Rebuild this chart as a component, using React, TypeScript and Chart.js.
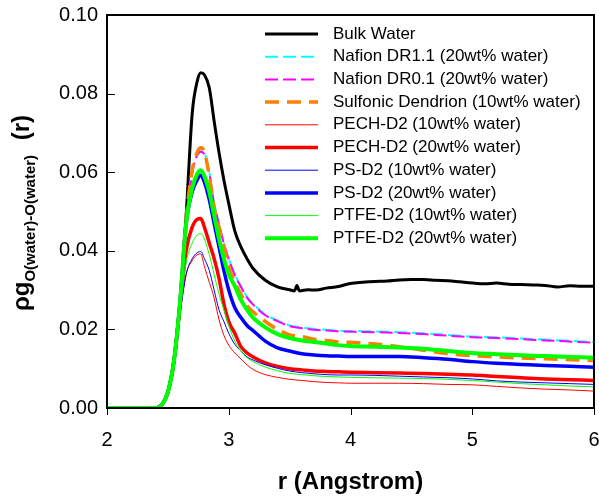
import React, { useEffect, useRef } from "react";
import { Chart, registerables } from "chart.js";

Chart.register(...registerables);

const r = [2.0, 2.4, 2.45, 2.5, 2.55, 2.6, 2.65, 2.7, 2.74, 2.77, 2.8, 2.84, 2.88, 2.92, 2.96, 3.0, 3.05, 3.1, 3.15, 3.2, 3.3, 3.4, 3.5, 3.6, 3.7, 3.8, 3.9, 4.0, 4.2, 4.4, 4.6, 4.8, 5.0, 5.2, 5.4, 5.6, 5.8, 6.0];
const rBulk = [2.0, 2.4, 2.45, 2.5, 2.55, 2.6, 2.65, 2.7, 2.74, 2.77, 2.8, 2.84, 2.88, 2.92, 2.96, 3.0, 3.05, 3.1, 3.15, 3.2, 3.3, 3.4, 3.45, 3.5, 3.54, 3.56, 3.58, 3.65, 3.72, 3.8, 3.9, 4.0, 4.1, 4.2, 4.3, 4.4, 4.5, 4.6, 4.7, 4.8, 4.9, 5.0, 5.1, 5.2, 5.3, 5.4, 5.5, 5.6, 5.7, 5.8, 5.9, 6.0];

const bulkWater = [0, 0, 0.0008, 0.004, 0.012, 0.027, 0.049, 0.075, 0.083, 0.0853, 0.0848, 0.0815, 0.073, 0.065, 0.058, 0.052, 0.045, 0.041, 0.038, 0.0355, 0.0325, 0.0308, 0.0304, 0.0301, 0.0298, 0.0312, 0.0298, 0.0301, 0.0300, 0.0305, 0.0309, 0.0317, 0.032, 0.0322, 0.0323, 0.0326, 0.0327, 0.0327, 0.0325, 0.0324, 0.0321, 0.0318, 0.0316, 0.0318, 0.0315, 0.0314, 0.0313, 0.0312, 0.0308, 0.0311, 0.0310, 0.031];
const nafionDR11 = [0, 0, 0.0008, 0.004, 0.012, 0.027, 0.047, 0.060, 0.0645, 0.0658, 0.065, 0.060, 0.052, 0.047, 0.042, 0.038, 0.034, 0.031, 0.0283, 0.0265, 0.0238, 0.0223, 0.021, 0.0205, 0.0201, 0.0199, 0.0197, 0.0196, 0.0195, 0.0193, 0.019, 0.0186, 0.0182, 0.018, 0.0177, 0.0174, 0.0171, 0.0168];
const nafionDR01 = [0, 0, 0.0008, 0.004, 0.012, 0.027, 0.047, 0.0598, 0.0642, 0.0652, 0.0645, 0.0598, 0.0518, 0.0468, 0.0418, 0.0378, 0.0338, 0.0308, 0.0281, 0.0263, 0.0236, 0.0221, 0.0208, 0.0203, 0.0199, 0.0197, 0.0195, 0.0194, 0.0193, 0.0191, 0.0188, 0.0184, 0.018, 0.0178, 0.0175, 0.0172, 0.0169, 0.0166];
const sulfonic10 = [0, 0, 0.0008, 0.004, 0.012, 0.027, 0.048, 0.0605, 0.065, 0.0662, 0.0652, 0.059, 0.051, 0.046, 0.041, 0.036, 0.032, 0.029, 0.026, 0.0245, 0.022, 0.020, 0.0186, 0.0182, 0.0175, 0.0172, 0.0168, 0.0167, 0.0163, 0.0156, 0.0147, 0.0138, 0.0133, 0.013, 0.0127, 0.0125, 0.0123, 0.0121];
const pech10 = [0, 0, 0.0008, 0.004, 0.012, 0.024, 0.034, 0.0375, 0.039, 0.0392, 0.036, 0.032, 0.028, 0.0225, 0.0185, 0.016, 0.014, 0.0125, 0.011, 0.0098, 0.0085, 0.0078, 0.0073, 0.007, 0.0067, 0.0065, 0.0064, 0.0063, 0.0063, 0.0063, 0.0062, 0.006, 0.0059, 0.0055, 0.0051, 0.0048, 0.0046, 0.0043];
const pech20 = [0, 0, 0.0008, 0.004, 0.012, 0.026, 0.040, 0.046, 0.048, 0.0482, 0.046, 0.042, 0.038, 0.033, 0.0265, 0.022, 0.019, 0.0156, 0.014, 0.013, 0.0115, 0.0106, 0.010, 0.0097, 0.0094, 0.0093, 0.0092, 0.0091, 0.009, 0.0089, 0.0088, 0.0086, 0.0084, 0.008, 0.0077, 0.0074, 0.0072, 0.007];
const ps10 = [0, 0, 0.0008, 0.004, 0.012, 0.024, 0.034, 0.038, 0.0395, 0.0398, 0.038, 0.035, 0.030, 0.025, 0.022, 0.019, 0.0162, 0.0145, 0.013, 0.0122, 0.011, 0.0101, 0.0094, 0.009, 0.0087, 0.0085, 0.0084, 0.0084, 0.0083, 0.0081, 0.0079, 0.0077, 0.0074, 0.0069, 0.0066, 0.0064, 0.0062, 0.006];
const ps20 = [0, 0, 0.0008, 0.004, 0.012, 0.027, 0.047, 0.055, 0.058, 0.0592, 0.0575, 0.053, 0.047, 0.041, 0.035, 0.030, 0.0255, 0.023, 0.021, 0.0197, 0.017, 0.0153, 0.0145, 0.0138, 0.0135, 0.0133, 0.0132, 0.0131, 0.0131, 0.0131, 0.0128, 0.0124, 0.0118, 0.0114, 0.0111, 0.0108, 0.0106, 0.0104];
const ptfe10 = [0, 0, 0.0008, 0.004, 0.012, 0.025, 0.037, 0.042, 0.044, 0.0444, 0.043, 0.039, 0.034, 0.029, 0.025, 0.021, 0.017, 0.0145, 0.0128, 0.0118, 0.0104, 0.0095, 0.0088, 0.0085, 0.0082, 0.008, 0.0079, 0.0078, 0.0077, 0.0076, 0.0075, 0.0073, 0.007, 0.0066, 0.0062, 0.0059, 0.0056, 0.0054];
const ptfe20 = [0, 0, 0.0008, 0.004, 0.012, 0.027, 0.047, 0.056, 0.0595, 0.0605, 0.059, 0.055, 0.049, 0.043, 0.038, 0.034, 0.031, 0.0275, 0.025, 0.023, 0.0205, 0.0188, 0.0178, 0.0172, 0.0168, 0.0164, 0.016, 0.0158, 0.0156, 0.0154, 0.0151, 0.0145, 0.014, 0.0137, 0.0134, 0.0132, 0.013, 0.0128];

const seriesLabels = [
  "Bulk Water",
  "Nafion DR1.1 (20wt% water)",
  "Nafion DR0.1 (20wt% water)",
  "Sulfonic Dendrion (10wt% water)",
  "PECH-D2 (10wt% water)",
  "PECH-D2 (20wt% water)",
  "PS-D2 (10wt% water)",
  "PS-D2 (20wt% water)",
  "PTFE-D2 (10wt% water)",
  "PTFE-D2 (20wt% water)",
];
const seriesX = [rBulk, r, r, r, r, r, r, r, r, r];
const seriesValues = [bulkWater, nafionDR11, nafionDR01, sulfonic10, pech10, pech20, ps10, ps20, ptfe10, ptfe20];
const seriesColors = ["#000000", "#00ffff", "#ff00ff", "#ff8000", "#ff0000", "#ff0000", "#0000ff", "#0000ff", "#00ff00", "#00ff00"];
const seriesWidths = [3, 2, 2, 3.5, 1, 3.5, 1, 3.5, 1, 4];
const seriesDashes: number[][] = [[], [13, 5], [13, 5], [14, 8], [], [], [], [], [], []];

const xTicks = [2, 3, 4, 5, 6];
const yTicks = [0, 0.02, 0.04, 0.06, 0.08, 0.1];

const FONT = "'Liberation Sans', Arial, sans-serif";

const overlayPlugin = {
  id: "overlay",
  afterDraw(chart: any) {
    const { ctx, chartArea: a, scales } = chart;
    const xs = scales.x;
    const ys = scales.y;
    ctx.save();
    ctx.strokeStyle = "#000";
    ctx.setLineDash([]);
    // frame
    ctx.lineWidth = 2;
    ctx.strokeRect(a.left, a.top, a.right - a.left, a.bottom - a.top);
    // ticks
    ctx.lineWidth = 1;
    yTicks.forEach((v) => {
      const y = Math.round(ys.getPixelForValue(v)) + 0.5;
      ctx.beginPath();
      ctx.moveTo(a.left, y);
      ctx.lineTo(a.left + 8, y);
      ctx.stroke();
    });
    xTicks.forEach((v) => {
      const x = Math.round(xs.getPixelForValue(v)) + 0.5;
      ctx.beginPath();
      ctx.moveTo(x, a.bottom);
      ctx.lineTo(x, a.bottom + 7);
      ctx.stroke();
    });

    // x title
    ctx.fillStyle = "#000";
    ctx.font = `bold 24px ${FONT}`;
    ctx.textAlign = "center";
    ctx.textBaseline = "middle";
    ctx.fillText("r (Angstrom)", (a.left + a.right) / 2, 482);

    // y title (rotated, with subscript)
    ctx.save();
    ctx.translate(29, 213);
    ctx.rotate(-Math.PI / 2);
    ctx.textAlign = "left";
    ctx.textBaseline = "alphabetic";
    const mainFont = `bold 24px ${FONT}`;
    const subFont = `bold 15px ${FONT}`;
    ctx.font = mainFont;
    const w1 = ctx.measureText("\u03c1g").width;
    ctx.font = subFont;
    const w2 = ctx.measureText("O(water)-O(water)").width;
    ctx.font = mainFont;
    const w3 = ctx.measureText(" (r)").width;
    const gap = 8;
    const total = w1 + w2 + w3 + gap;
    let x0 = -total / 2;
    ctx.font = mainFont;
    ctx.fillText("\u03c1g", x0, 0);
    x0 += w1;
    ctx.font = subFont;
    ctx.fillText("O(water)-O(water)", x0, 5.5);
    x0 += w2 + gap;
    ctx.font = mainFont;
    ctx.fillText(" (r)", x0, 0);
    ctx.restore();

    // legend
    ctx.textAlign = "left";
    ctx.textBaseline = "middle";
    ctx.font = `17px ${FONT}`;
    seriesLabels.forEach((lab, i) => {
      const y = 34 + i * 22.7;
      ctx.save();
      ctx.strokeStyle = seriesColors[i];
      ctx.lineWidth = seriesWidths[i];
      ctx.setLineDash(seriesDashes[i]);
      ctx.beginPath();
      ctx.moveTo(265, y);
      ctx.lineTo(318, y);
      ctx.stroke();
      ctx.restore();
      ctx.fillStyle = "#000";
      ctx.fillText(lab, 333, y);
    });
    ctx.restore();
  },
};

export default function App() {
  const canvasRef = useRef<HTMLCanvasElement | null>(null);

  useEffect(() => {
    if (!canvasRef.current) return;
    const datasets = seriesLabels.map((lab, i) => ({
      label: lab,
      data: seriesX[i].map((x, j) => ({ x, y: seriesValues[i][j] })),
      borderColor: seriesColors[i],
      backgroundColor: seriesColors[i],
      borderWidth: seriesWidths[i],
      borderDash: seriesDashes[i],
      pointRadius: 0,
      fill: false,
      cubicInterpolationMode: "monotone" as const,
      order: -i,
    }));
    const chart = new Chart(canvasRef.current, {
      type: "line",
      data: { datasets },
      plugins: [overlayPlugin],
      options: {
        responsive: false,
        animation: false,
        layout: { padding: { top: 15, right: 5, left: 0, bottom: 0 } },
        plugins: {
          legend: { display: false },
          tooltip: { enabled: false },
          title: { display: false },
        },
        scales: {
          x: {
            type: "linear",
            min: 2,
            max: 6,
            grid: { display: false, drawTicks: false },
            border: { display: false },
            ticks: {
              stepSize: 1,
              color: "#000",
              font: { family: FONT, size: 20 },
              padding: 20,
              maxRotation: 0,
              callback: (v: any) => String(v),
            },
            afterFit: (s: any) => {
              s.height = 90;
              s.paddingLeft = 0;
              s.paddingRight = 0;
            },
          },
          y: {
            type: "linear",
            min: 0,
            max: 0.1,
            grid: { display: false, drawTicks: false },
            border: { display: false },
            ticks: {
              stepSize: 0.02,
              color: "#000",
              font: { family: FONT, size: 20 },
              padding: 9,
              callback: (v: any) => Number(v).toFixed(2),
            },
            afterFit: (s: any) => {
              s.width = 107;
              s.paddingTop = 0;
              s.paddingBottom = 0;
            },
          },
        },
      },
    });
    return () => chart.destroy();
  }, []);

  return (
    <div style={{ position: "absolute", left: 0, top: 0, width: 599, height: 498, background: "#fff" }}>
      <canvas ref={canvasRef} width={599} height={498} style={{ width: 599, height: 498 }} />
    </div>
  );
}
